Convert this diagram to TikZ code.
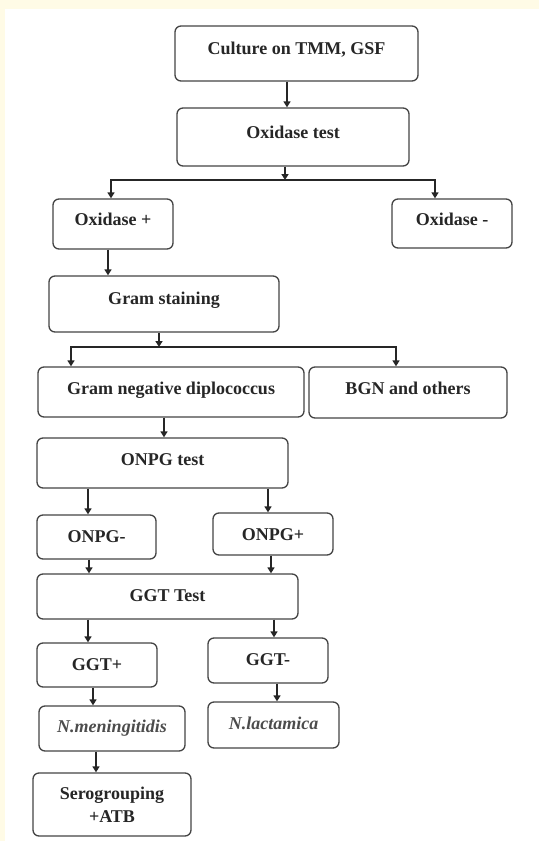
\documentclass[tikz,border=0pt]{standalone}
\usepackage{fontspec}
\setmainfont{Liberation Serif}
\usetikzlibrary{arrows.meta,calc}
\definecolor{cream}{HTML}{FFFBE6}
\definecolor{boxline}{HTML}{444444}
\definecolor{inkc}{HTML}{262626}
\begin{document}
\begin{tikzpicture}[x=1bp,y=-1bp,
  box/.style={draw=boxline, line width=1.3bp, rounded corners=6bp, inner sep=0pt,
    font=\fontsize{18bp}{23bp}\selectfont\bfseries, text=inkc, fill=white},
  spec/.style={font=\fontsize{18bp}{23bp}\selectfont\bfseries\itshape, text=black!70},
  arr/.style={draw=inkc, line width=1.5bp, -{Triangle[length=6bp,width=7bp]}},
  ln/.style={draw=inkc, line width=1.5bp}]
\useasboundingbox (0,0) rectangle (539,841);
\fill[cream] (0,0) rectangle (539,841);
\fill[white] (5,9) rectangle (539,841);

% nodes: center x, center y, width, height, text height/depth set baseline
\node[box, minimum width=243bp, text height=28bp, text depth=27bp] (cult) at (296.5,53.5) {Culture on TMM, GSF};
\node[box, minimum width=232bp, text height=30bp, text depth=28bp] (oxt) at (293,137) {Oxidase test};
\node[box, minimum width=120bp, text height=26bp, text depth=24bp] (oxp) at (113,224) {Oxidase +};
\node[box, minimum width=120bp, text height=26bp, text depth=23bp] (oxm) at (452,223.5) {Oxidase -};
\node[box, minimum width=230bp, text height=28bp, text depth=28bp] (gram) at (164,304) {Gram staining};
\node[box, minimum width=266bp, text height=27bp, text depth=23bp] (gnd) at (171,392) {Gram negative diplococcus};
\node[box, minimum width=198bp, text height=27bp, text depth=24bp] (bgn) at (408,392.5) {BGN and others};
\node[box, minimum width=251bp, text height=27bp, text depth=23bp] (onpg) at (162.5,463) {ONPG test};
\node[box, minimum width=119bp, text height=27bp, text depth=17bp] (onm) at (96.5,537) {ONPG-};
\node[box, minimum width=120bp, text height=27bp, text depth=15bp] (onp) at (273,534) {ONPG+};
\node[box, minimum width=261bp, text height=27bp, text depth=18bp] (ggt) at (167.5,596.5) {GGT Test};
\node[box, minimum width=120bp, text height=27bp, text depth=17bp] (ggtp) at (97,665) {GGT+};
\node[box, minimum width=120bp, text height=27bp, text depth=18bp] (ggtm) at (268,660.5) {GGT-};
\node[box, spec, minimum width=146bp, text height=26bp, text depth=19bp] (nmen) at (112,728.5) {N.meningitidis};
\node[box, spec, minimum width=131bp, text height=27bp, text depth=19bp] (nlac) at (273.5,725) {N.lactamica};
\node[box, minimum width=158bp, minimum height=63bp, align=center] (sero) at (112,804.5) {Serogrouping\\+ATB};

% junctions
\coordinate (j1) at (285,180);
\coordinate (j2) at (159,347);

% connectors
\draw[arr] (cult.south -| 287,0) -- (oxt.north -| 287,0);
\draw[arr] (oxt.south -| j1) -- (j1);
\draw[ln] (111,180 |- j1) -- (j1);
\draw[arr] (j1) -| (oxp.north -| 111,0);
\draw[arr] (j1) -| (oxm.north -| 435,0);
\draw[arr] (oxp.south -| 108,0) -- (gram.north -| 108,0);
\draw[arr] (gram.south -| j2) -- (j2);
\draw[arr] (j2) -| (gnd.north -| 71,0);
\draw[arr] (j2) -| (bgn.north -| 396,0);
\draw[arr] (gnd.south -| 164,0) -- (onpg.north -| 164,0);
\draw[arr] (onpg.south -| 88,0) -- (onm.north -| 88,0);
\draw[arr] (onpg.south -| 268,0) -- (onp.north -| 268,0);
\draw[arr] (onm.south -| 89,0) -- (ggt.north -| 89,0);
\draw[arr] (onp.south -| 271,0) -- (ggt.north -| 271,0);
\draw[arr] (ggt.south -| 88,0) -- (ggtp.north -| 88,0);
\draw[arr] (ggt.south -| 274,0) -- (ggtm.north -| 274,0);
\draw[arr] (ggtp.south -| 93,0) -- (nmen.north -| 93,0);
\draw[arr] (ggtm.south -| 277,0) -- (nlac.north -| 277,0);
\draw[arr] (nmen.south -| 96,0) -- (sero.north -| 96,0);
\end{tikzpicture}
\end{document}
